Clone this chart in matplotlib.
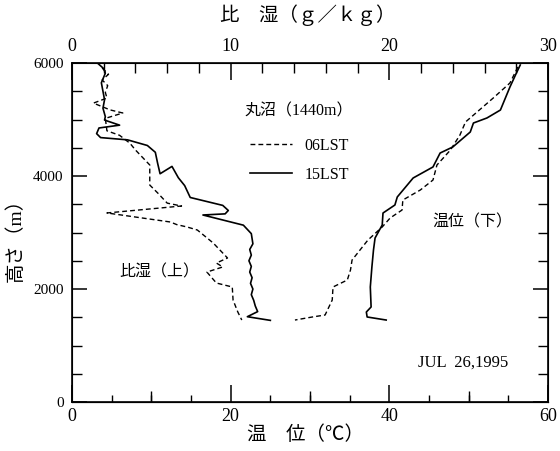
import matplotlib
matplotlib.use("Agg")
import matplotlib.pyplot as plt
from matplotlib.ticker import MultipleLocator, FuncFormatter

plt.rcParams['font.family'] = ['Liberation Serif', 'Noto Sans CJK JP']

# specific humidity (g/kg), top axis -- 06LST (dashed)
q06_height = [5910, 5800, 5700, 5600, 5480, 5380, 5290, 5170, 5115, 5020, 4800, 4720,
              4580, 4460, 4195, 3840, 3700, 3520, 3469, 3346, 3186, 3140, 3098, 3044,
              2814, 2549, 2460, 2390, 2300, 2106, 2036, 1805, 1593, 1451]
q06_value = [1.9, 2.3, 1.9, 2.25, 2.1, 2.2, 1.35, 2.4, 3.2, 2.1, 2.2, 3.0,
             3.65, 4.0, 4.9, 4.9, 5.4, 6.0, 6.9, 2.2, 6.2, 6.6, 7.25, 7.9,
             8.9, 9.8, 9.1, 9.5, 8.5, 9.1, 10.1, 10.15, 10.45, 10.7]

# specific humidity (g/kg), top axis -- 15LST (solid)
q15_height = [6000, 5900, 5820, 5650, 5500, 5350, 5200, 5050, 4990, 4900, 4850, 4750,
              4680, 4640, 4540, 4420, 4220, 4040, 4170, 3970, 3830, 3620, 3480, 3390,
              3330, 3310, 3130, 2980, 2800, 2700, 2600, 2500, 2400, 2300, 2200, 2100,
              2000, 1900, 1800, 1700, 1600, 1510, 1445]
q15_value = [1.6, 2.0, 2.1, 1.85, 1.95, 2.05, 1.95, 2.1, 2.05, 3.0, 1.7, 1.55,
             1.8, 3.5, 4.75, 5.25, 5.4, 5.55, 6.3, 6.7, 7.1, 7.45, 9.5, 9.85,
             9.65, 8.25, 10.8, 11.3, 11.4, 11.2, 11.3, 11.15, 11.3, 11.2, 11.35, 11.25,
             11.4, 11.3, 11.45, 11.55, 11.7, 11.05, 12.5]

# potential temperature (deg C), bottom axis -- 06LST (dashed)
th06_height = [5930, 5646, 5381, 4956, 4726, 4460, 4319, 4195, 3929, 3752, 3575, 3398,
               3257, 3098, 2867, 2690, 2513, 2336, 2159, 2036, 1805, 1540, 1505, 1451]
th06_value = [56.2, 55.2, 53.1, 49.6, 48.9, 47.7, 46.8, 46.0, 45.5, 43.9, 41.7, 41.6,
              40.1, 39.1, 37.3, 36.3, 35.3, 35.1, 34.7, 32.9, 32.8, 31.9, 30.3, 28.1]

# potential temperature (deg C), bottom axis -- 15LST (solid)
th15_height = [5965, 5788, 5575, 5168, 5027, 4938, 4779, 4514, 4407, 4160, 3965, 3629,
               3487, 3345, 3133, 2903, 2690, 2390, 2036, 1682, 1593, 1505, 1451]
th15_value = [56.5, 55.9, 55.2, 54.0, 52.3, 50.6, 50.2, 48.0, 46.4, 45.5, 43.0, 41.0,
              40.7, 39.2, 39.1, 38.2, 38.0, 37.8, 37.6, 37.7, 37.1, 37.2, 39.6]

fig = plt.figure(figsize=(5.6, 4.51), dpi=100)
ax = fig.add_axes([0.1286, 0.1086, 0.85, 0.7517])
ax.set_xlim(0, 60)
ax.set_ylim(0, 6000)

dash = (0, (3.5, 2.2))
ax.plot(th06_value, th06_height, color='black', lw=1.0, linestyle=dash)
ax.plot(th15_value, th15_height, color='black', lw=1.2)

for s in ax.spines.values():
    s.set_linewidth(1.2)

ax.xaxis.set_major_locator(MultipleLocator(20))
ax.xaxis.set_minor_locator(MultipleLocator(5))
ax.yaxis.set_major_locator(MultipleLocator(2000))
ax.yaxis.set_minor_locator(MultipleLocator(500))
ax.yaxis.set_major_formatter(FuncFormatter(lambda v, p: f"{int(v)}"))
ax.tick_params(axis='x', which='major', direction='in', length=12, width=1.1,
               top=False, labelsize=13, pad=4)
ax.tick_params(axis='x', which='minor', direction='in', length=5, width=1.0, top=False)
ax.tick_params(axis='y', which='major', direction='in', length=11, width=1.1,
               right=True, labelsize=11, pad=6)
ax.tick_params(axis='y', which='minor', direction='in', length=7, width=1.0, right=True)

# medium ticks at 10, 30, 50
sec = ax.secondary_xaxis('bottom')
sec.set_xticks([10, 30, 50])
sec.set_xticklabels([])
sec.tick_params(direction='in', length=8, width=1.0)

axt = ax.twiny()
axt.set_xlim(0, 30)
axt.plot(q06_value, q06_height, color='black', lw=1.0, linestyle=dash, label='06LST')
axt.plot(q15_value, q15_height, color='black', lw=1.2, label='15LST')
axt.xaxis.set_major_locator(MultipleLocator(10))
axt.xaxis.set_minor_locator(MultipleLocator(2))
axt.tick_params(axis='x', which='major', direction='in', length=12, width=1.1,
                top=True, bottom=False, labeltop=True, labelbottom=False,
                labelsize=13, pad=6)
axt.tick_params(axis='x', which='minor', direction='in', length=7, width=1.0,
                top=True, bottom=False)

leg = axt.legend(loc='upper left', bbox_to_anchor=(0.374, 0.779), frameon=False,
                 fontsize=11.5, handlelength=2.6, handletextpad=0.8,
                 labelspacing=0.8, borderpad=0, borderaxespad=0)

ax.text(21.8, 5150, '丸沼（1440m）', fontsize=11.5, ha='left', va='center')
ax.text(6.0, 2300, '比湿（上）', fontsize=11.5, ha='left', va='center')
ax.text(45.4, 3186, '温位（下）', fontsize=11.5, ha='left', va='center')
ax.text(43.6, 690, 'JUL  26,1995', fontsize=12, ha='left', va='center')

fig.text(308 / 560, 1 - 15 / 451, '比　湿（ｇ／ｋｇ）', fontsize=14, ha='center', va='center')
fig.text(306 / 560, 1 - 435 / 451, '温　位（℃）', fontsize=14, ha='center', va='center')
fig.text(15 / 560, 1 - 235 / 451, '高さ（m）', fontsize=14, ha='center', va='center',
         rotation=90)

fig.savefig('out.png', dpi=100)
